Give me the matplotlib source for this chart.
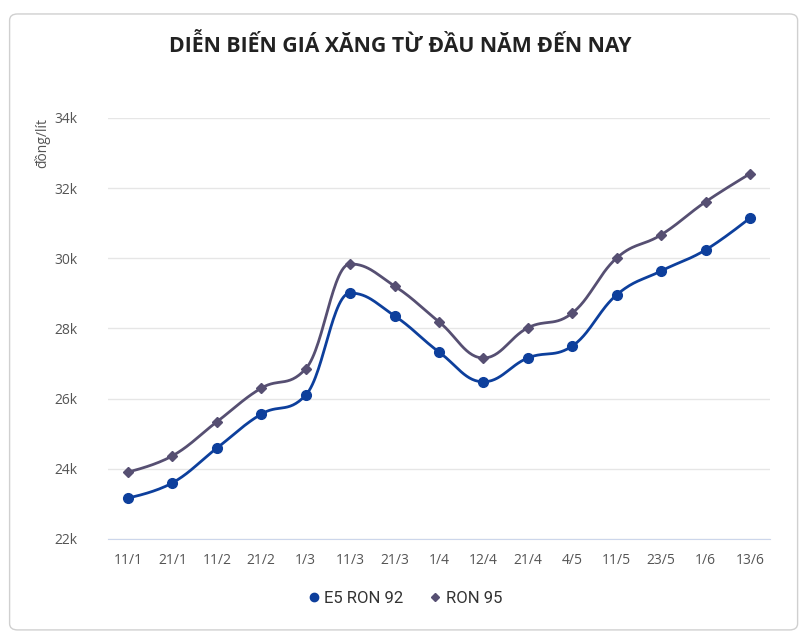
import numpy as np
import matplotlib
matplotlib.use("Agg")
import matplotlib.pyplot as plt
from matplotlib.patches import FancyBboxPatch
from matplotlib.lines import Line2D

categories = ["11/1", "21/1", "11/2", "21/2", "1/3", "11/3", "21/3", "1/4",
              "12/4", "21/4", "4/5", "11/5", "23/5", "1/6", "13/6"]
e5_ron92 = [23170, 23600, 24590, 25560, 26100, 29010, 28360, 27330,
            26480, 27160, 27500, 28960, 29640, 30240, 31150]
ron95 = [23910, 24370, 25340, 26300, 26850, 29840, 29210, 28190,
         27160, 28020, 28440, 30010, 30670, 31610, 32410]
y_ticks = [22000, 24000, 26000, 28000, 30000, 32000, 34000]
y_ticklabels = ["22k", "24k", "26k", "28k", "30k", "32k", "34k"]

plt.rcParams['font.family'] = ['Open Sans', 'DejaVu Sans']

def spline(x, y, n=30, smoothing=1.5):
    # Highcharts-style spline: bezier control points clamped at extrema
    x = np.asarray(x, float); y = np.asarray(y, float)
    N = len(x)
    lcx, lcy = x.copy(), y.copy()
    rcx, rcy = x.copy(), y.copy()
    d = smoothing + 1
    for i in range(1, N - 1):
        lx = (smoothing * x[i] + x[i - 1]) / d
        ly = (smoothing * y[i] + y[i - 1]) / d
        rx = (smoothing * x[i] + x[i + 1]) / d
        ry = (smoothing * y[i] + y[i + 1]) / d
        if rx != lx:
            corr = (ry - ly) * (rx - x[i]) / (rx - lx) + y[i] - ry
            ly += corr; ry += corr
        if ly > y[i - 1] and ly > y[i]:
            ly = max(y[i - 1], y[i]); ry = 2 * y[i] - ly
        elif ly < y[i - 1] and ly < y[i]:
            ly = min(y[i - 1], y[i]); ry = 2 * y[i] - ly
        if ry > y[i + 1] and ry > y[i]:
            ry = max(y[i + 1], y[i]); ly = 2 * y[i] - ry
        elif ry < y[i + 1] and ry < y[i]:
            ry = min(y[i + 1], y[i]); ly = 2 * y[i] - ry
        lcx[i], lcy[i], rcx[i], rcy[i] = lx, ly, rx, ry
    xs, ys = [], []
    for i in range(N - 1):
        t = np.linspace(0, 1, n, endpoint=(i == N - 2))[:, None]
        P0 = np.array([x[i], y[i]]); P1 = np.array([rcx[i], rcy[i]])
        P2 = np.array([lcx[i + 1], lcy[i + 1]]); P3 = np.array([x[i + 1], y[i + 1]])
        B = ((1 - t) ** 3) * P0 + 3 * ((1 - t) ** 2) * t * P1 + 3 * (1 - t) * t ** 2 * P2 + t ** 3 * P3
        xs.append(B[:, 0]); ys.append(B[:, 1])
    return np.concatenate(xs), np.concatenate(ys)

fig = plt.figure(figsize=(8, 6.35), dpi=100)
card = FancyBboxPatch((0.012, 0.008), 0.985, 0.97, boxstyle="round,pad=0,rounding_size=0.01",
                      transform=fig.transFigure, facecolor="white", edgecolor="#d0d0d0",
                      linewidth=1.0, zorder=-10)
fig.add_artist(card)

ax = fig.add_axes([0.135, 0.1512, 0.8275, 0.663])
ax.set_facecolor("none")
ax.set_zorder(5)
x = np.arange(len(categories))

c_blue = "#0d3f9c"
c_purple = "#564f72"

xs, ys = spline(x, ron95)
ax.plot(xs, ys, color=c_purple, lw=2, zorder=3)
ax.plot(x, ron95, linestyle="none", marker="D", markersize=5, color=c_purple, zorder=4)
xs, ys = spline(x, e5_ron92)
ax.plot(xs, ys, color=c_blue, lw=2, zorder=3)
ax.plot(x, e5_ron92, linestyle="none", marker="o", markersize=7, color=c_blue, zorder=4)

ax.set_xlim(-0.45, len(categories) - 0.55)
ax.set_ylim(22000, 34000)
ax.set_yticks(y_ticks)
ax.set_yticklabels(y_ticklabels)
ax.set_xticks(x)
ax.set_xticklabels(categories)
ax.tick_params(axis="both", length=0, labelsize=10, colors="#555555")
ax.tick_params(axis="x", pad=10)
ax.tick_params(axis="y", pad=22)
ax.grid(axis="y", color="#e6e6e6", lw=1)
ax.set_axisbelow(True)
for s in ["top", "right", "left"]:
    ax.spines[s].set_visible(False)
ax.spines["bottom"].set_color("#ccd6eb")

fig.text(0.053, 0.814, "đồng/lít", rotation=90, ha="center", va="top",
         fontsize=10, color="#555555")

fig.text(0.5, 0.928, "DIỄN BIẾN GIÁ XĂNG TỪ ĐẦU NĂM ĐẾN NAY", ha="center", va="center",
         fontsize=15.3, fontweight="bold", color="#222222")

handles = [Line2D([], [], color=c_blue, marker="o", markersize=6, lw=0),
           Line2D([], [], color=c_purple, marker="D", markersize=4.5, lw=0)]
fig.legend(handles, ["E5 RON 92", "RON 95"], loc="center", bbox_to_anchor=(0.507, 0.058),
           ncol=2, frameon=False, prop={"family": ["Roboto", "DejaVu Sans"], "size": 12},
           handlelength=0.6, columnspacing=1.6, handletextpad=0.35, labelcolor="#333333")

fig.savefig("out.png", dpi=100)
